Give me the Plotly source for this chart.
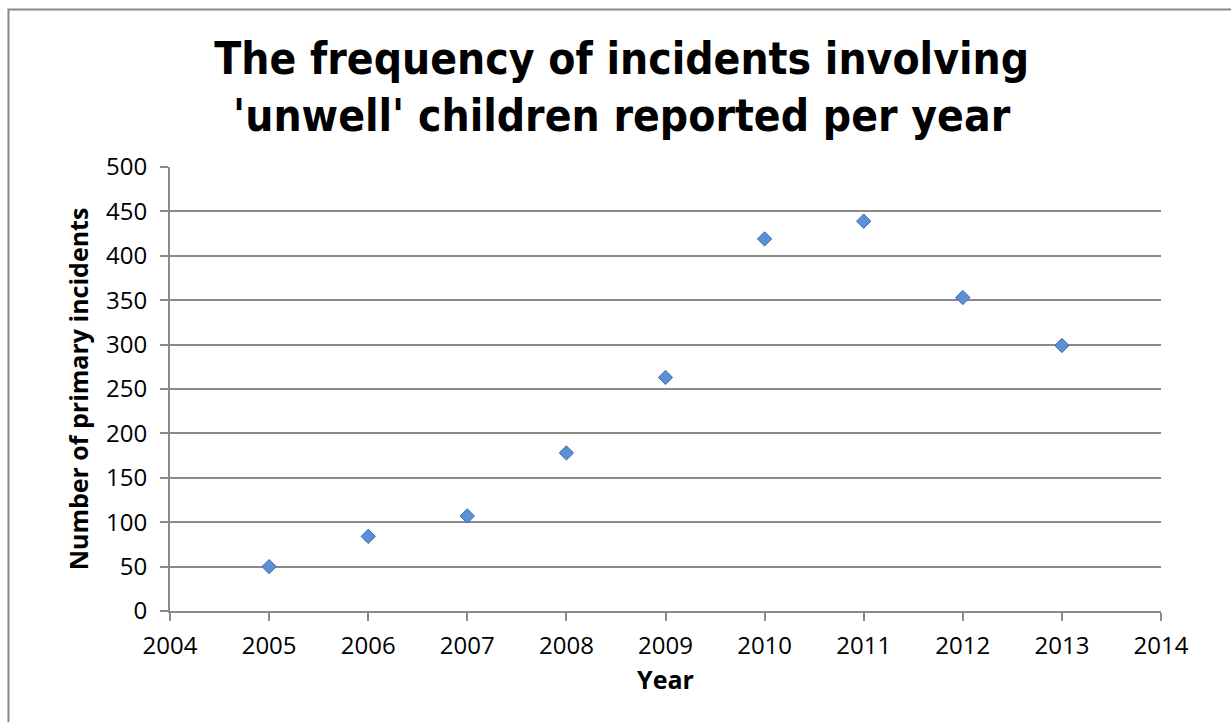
import plotly.graph_objects as go

# Incident counts per year
years = [2005, 2006, 2007, 2008, 2009, 2010, 2011, 2012, 2013]
incidents = [50, 84, 107, 178, 263, 419, 439, 353, 299]

x_ticks = list(range(2004, 2015))
y_ticks = list(range(0, 501, 50))

title_text = "The frequency of incidents involving<br>'unwell' children reported per year"
x_title = "Year"
y_title = "Number of primary incidents"

grid_col = "#8a8a8a"
tick_font = dict(family="Open Sans", size=24, color="#000000")
label_font = dict(family="Open Sans", size=25, color="#000000", weight="bold")

fig = go.Figure()
fig.add_trace(go.Scatter(
    x=years, y=incidents, mode="markers",
    marker=dict(symbol="diamond", size=11, color="#5b8fd6",
                line=dict(width=1, color="#3a6cb0")),
    showlegend=False,
))

fig.update_layout(
    width=1231, height=722,
    margin=dict(l=170, r=70, t=167, b=111),
    paper_bgcolor="white", plot_bgcolor="white",
    title=dict(text=title_text, x=0.505, xanchor="center", y=0.898, yanchor="bottom",
               font=dict(family="DejaVu Sans Condensed", size=44, color="#000000", weight="bold")),
    xaxis=dict(range=[2004, 2014], tickvals=x_ticks, ticktext=[str(v) for v in x_ticks],
               showgrid=False, zeroline=False, showline=True, linecolor=grid_col, linewidth=2,
               ticks="outside", ticklen=8, tickwidth=2, tickcolor=grid_col, tickfont=tick_font,
               ticklabelstandoff=4,
               title=dict(text=x_title, standoff=12, font=label_font)),
    yaxis=dict(range=[0, 500], tickvals=y_ticks, ticktext=[str(v) for v in y_ticks],
               showgrid=True, gridcolor=grid_col, gridwidth=2, zeroline=False,
               showline=True, linecolor=grid_col, linewidth=2,
               ticks="outside", ticklen=8, tickwidth=2, tickcolor=grid_col, tickfont=tick_font,
               ticklabelstandoff=8,
               title=dict(text=y_title, standoff=10, font=label_font)),
)

# chart border
fig.add_shape(type="rect", xref="paper", yref="paper",
              x0=-0.163, x1=1.08, y0=-0.3, y1=1.3545,
              line=dict(color="#888888", width=2), fillcolor="rgba(0,0,0,0)", layer="below")

fig.write_html("out.html")
